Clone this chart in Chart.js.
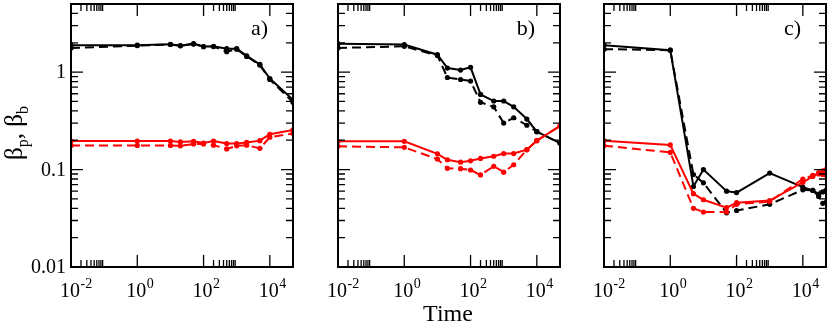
<!DOCTYPE html>
<html>
<head>
<meta charset="utf-8">
<script src="https://cdn.jsdelivr.net/npm/chart.js@4"></script>
<style>
    html, body { margin: 0; padding: 0; background: #ffffff; }
    #wrap { position: relative; width: 830px; height: 326px; overflow: hidden; }
    canvas { position: absolute; top: 0; }
</style>
</head>
<body>
<div id="wrap">
    <canvas id="panelA" width="300" height="326" style="left:0px"></canvas>
    <canvas id="panelB" width="264" height="326" style="left:300px"></canvas>
    <canvas id="panelC" width="266" height="326" style="left:564px"></canvas>
</div>
<script>
//---------------------------------Data-----------------------------------//
const timesA = [0.01, 1, 10, 20, 50, 100, 200, 500, 1000, 2000, 5000, 1e4, 5e4];
const blackSolidA = [1.89, 1.89, 1.93, 1.87, 1.96, 1.83, 1.84, 1.74, 1.74, 1.47, 1.20, 0.86, 0.52];
const blackDashedA = [1.77, 1.87, 1.92, 1.86, 1.94, 1.82, 1.83, 1.62, 1.72, 1.45, 1.18, 0.84, 0.49];
const redSolidA = [0.196, 0.196, 0.196, 0.192, 0.195, 0.187, 0.196, 0.185, 0.185, 0.19, 0.198, 0.23, 0.255];
const redDashedA = [0.177, 0.177, 0.177, 0.175, 0.183, 0.183, 0.178, 0.163, 0.175, 0.178, 0.165, 0.215, 0.235];

const timesB = [0.01, 1, 10, 20, 50, 100, 200, 500, 1000, 2000, 5000, 1e4, 5e4];
const blackSolidB = [1.96, 1.92, 1.51, 1.10, 1.05, 1.12, 0.59, 0.505, 0.505, 0.44, 0.33, 0.245, 0.187];
const blackDashedB = [1.77, 1.84, 1.48, 0.88, 0.84, 0.81, 0.49, 0.44, 0.30, 0.34, 0.285, 0.245, 0.187];
const redSolidB = [0.195, 0.195, 0.145, 0.126, 0.119, 0.123, 0.13, 0.137, 0.146, 0.146, 0.16, 0.198, 0.28];
const redDashedB = [0.173, 0.169, 0.128, 0.103, 0.102, 0.099, 0.088, 0.108, 0.094, 0.112, 0.16, 0.198, 0.28];

const timesC = [0.01, 1, 5, 10, 50, 100, 1000, 1e4, 2e4, 3e4, 4e4, 5e4];
const blackSolidC = [1.89, 1.68, 0.067, 0.10, 0.060, 0.058, 0.092, 0.066, 0.061, 0.056, 0.059, 0.061];
const blackDashedC = [1.72, 1.68, 0.089, 0.073, 0.036, 0.038, 0.044, 0.062, 0.061, 0.053, 0.045, 0.046];
const redSolidC = [0.197, 0.179, 0.0565, 0.049, 0.0407, 0.0457, 0.048, 0.074, 0.085, 0.093, 0.097, 0.10];
const redDashedC = [0.176, 0.150, 0.040, 0.0367, 0.0367, 0.044, 0.047, 0.080, 0.087, 0.090, 0.089, 0.088];

const xMajorTicks = [0.01, 1, 100, 1e4];
const xTickExponents = ['-2', '0', '2', '4'];
const xMinorDecades = [0.01, 100];
const yMajorTicks = [1, 0.1, 0.01];
const yTickLabels = ['1', '0.1', '0.01'];
const yMinorDecades = [0.01, 0.1, 1];
const panelLabels = ['a)', 'b)', 'c)'];

const SERIF = '"Liberation Serif", "DejaVu Serif", serif';

//---------------------------------Frame, ticks and labels-----------------------------------//
const decorPlugin = {
    id: 'decor',
    afterDatasetsDraw(chart, args, opts) {
        const ctx = chart.ctx;
        const area = chart.chartArea;
        const xs = chart.scales.x;
        const ys = chart.scales.y;
        ctx.save();
        ctx.strokeStyle = '#000';
        ctx.fillStyle = '#000';

        // ticks, pointing inwards on all four sides
        ctx.lineWidth = 1.3;
        ctx.beginPath();
        xMajorTicks.forEach((v) => {
            const px = xs.getPixelForValue(v);
            ctx.moveTo(px, area.bottom); ctx.lineTo(px, area.bottom - 12);
            ctx.moveTo(px, area.top); ctx.lineTo(px, area.top + 12);
        });
        xMinorDecades.forEach((d) => {
            for (let k = 2; k <= 9; k++) {
                const px = xs.getPixelForValue(k * d);
                ctx.moveTo(px, area.bottom); ctx.lineTo(px, area.bottom - 7);
                ctx.moveTo(px, area.top); ctx.lineTo(px, area.top + 7);
            }
        });
        yMajorTicks.forEach((v) => {
            const py = ys.getPixelForValue(v);
            ctx.moveTo(area.left, py); ctx.lineTo(area.left + 12, py);
            ctx.moveTo(area.right, py); ctx.lineTo(area.right - 12, py);
        });
        yMinorDecades.forEach((d) => {
            for (let k = 2; k <= 9; k++) {
                if (k * d > ys.max) continue;
                const py = ys.getPixelForValue(k * d);
                ctx.moveTo(area.left, py); ctx.lineTo(area.left + 7, py);
                ctx.moveTo(area.right, py); ctx.lineTo(area.right - 7, py);
            }
        });
        ctx.stroke();

        // frame
        ctx.lineWidth = 2;
        ctx.strokeRect(area.left, area.top, area.right - area.left, area.bottom - area.top);

        // x tick labels 10^n
        xMajorTicks.forEach((v, i) => {
            const px = xs.getPixelForValue(v);
            ctx.font = '20px ' + SERIF;
            ctx.textAlign = 'left';
            ctx.textBaseline = 'alphabetic';
            const w = ctx.measureText('10').width;
            const x0 = px - w / 2 - 1;
            ctx.fillText('10', x0, 297);
            ctx.font = '14px ' + SERIF;
            ctx.fillText(xTickExponents[i], x0 + w + 0.5, 288);
        });

        // y tick labels, first panel only
        if (opts.yLabels) {
            ctx.font = '20px ' + SERIF;
            ctx.textAlign = 'right';
            ctx.textBaseline = 'middle';
            yMajorTicks.forEach((v, i) => {
                ctx.fillText(yTickLabels[i], area.left - 5, ys.getPixelForValue(v) + 1);
            });

            // axis title: beta_p, beta_b
            ctx.save();
            ctx.translate(22, 133);
            ctx.rotate(-Math.PI / 2);
            ctx.textBaseline = 'alphabetic';
            ctx.textAlign = 'left';
            const parts = [['\u03B2', 25, 0], ['p', 16, 6], [', \u03B2', 25, 0], ['b', 16, 6]];
            let total = 0;
            parts.forEach((p) => { ctx.font = p[1] + 'px ' + SERIF; total += ctx.measureText(p[0]).width; });
            let cx = -total / 2;
            parts.forEach((p) => {
                ctx.font = p[1] + 'px ' + SERIF;
                ctx.fillText(p[0], cx, p[2]);
                cx += ctx.measureText(p[0]).width;
            });
            ctx.restore();
        }

        // x axis title, middle panel only
        if (opts.xTitle) {
            ctx.font = '24px ' + SERIF;
            ctx.textAlign = 'center';
            ctx.textBaseline = 'alphabetic';
            ctx.fillText('Time', (area.left + area.right) / 2 - 1, 321);
        }

        // panel letter
        ctx.font = '22px ' + SERIF;
        ctx.textAlign = 'right';
        ctx.textBaseline = 'alphabetic';
        ctx.fillText(opts.label, area.right - 25, 35);

        ctx.restore();
    }
};

function toPoints(times, values) {
    return times.map((t, i) => ({ x: t, y: values[i] }));
}

function lineSet(times, values, color, dashed) {
    return {
        data: toPoints(times, values),
        borderColor: color,
        backgroundColor: color,
        borderWidth: 2,
        borderDash: dashed ? [9, 5] : [],
        pointRadius: 2.6,
        pointBorderWidth: 0,
        pointBackgroundColor: color,
        tension: 0
    };
}

function showPanel(canvasId, times, blackSolid, blackDashed, redSolid, redDashed, padding, decor) {
    const showChart = document.getElementById(canvasId).getContext('2d');
    new Chart(showChart, {
        type: 'line',
        data: {
            datasets: [
                lineSet(times, redDashed, '#ff0000', true),
                lineSet(times, redSolid, '#ff0000', false),
                lineSet(times, blackDashed, '#000000', true),
                lineSet(times, blackSolid, '#000000', false)
            ]
        },
        options: {
            responsive: false,
            animation: false,
            layout: { padding: padding },
            plugins: {
                legend: { display: false },
                tooltip: { enabled: false },
                decor: decor
            },
            scales: {
                x: { type: 'logarithmic', min: 0.01, max: 5e4, display: false },
                y: { type: 'logarithmic', min: 0.01, max: 5, display: false }
            }
        },
        plugins: [decorPlugin]
    });
}

showPanel('panelA', timesA, blackSolidA, blackDashedA, redSolidA, redDashedA,
    { left: 71, right: 7, top: 2, bottom: 59 }, { label: panelLabels[0], yLabels: true, xTitle: false });
showPanel('panelB', timesB, blackSolidB, blackDashedB, redSolidB, redDashedB,
    { left: 38, right: 4, top: 2, bottom: 59 }, { label: panelLabels[1], yLabels: false, xTitle: true });
showPanel('panelC', timesC, blackSolidC, blackDashedC, redSolidC, redDashedC,
    { left: 40, right: 4, top: 2, bottom: 59 }, { label: panelLabels[2], yLabels: false, xTitle: false });
</script>
</body>
</html>
